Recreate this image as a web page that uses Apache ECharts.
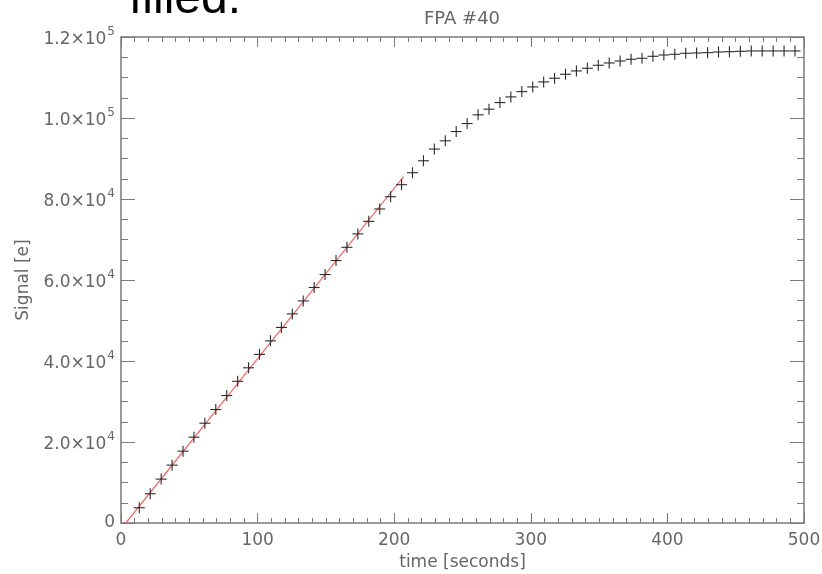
<!DOCTYPE html>
<html>
<head>
<meta charset="utf-8">
<script src="https://cdn.jsdelivr.net/npm/echarts@6/dist/echarts.min.js"></script>
<style>
  html, body { margin: 0; padding: 0; background: #fff; overflow: hidden; }
  #chart { width: 822px; height: 574px; }
</style>
</head>
<body>
<div id="chart"></div>
<script>
// Ramp samples: exposure time (s) and accumulated signal (e)
const timeSec = [
  13.4, 21.4, 29.4, 37.4, 45.4, 53.4, 61.4, 69.4, 77.4, 85.4,
  93.4, 101.4, 109.4, 117.4, 125.4, 133.4, 141.4, 149.4, 157.4, 165.4,
  173.4, 181.4, 189.4, 197.4, 205.4, 213.4, 221.4, 229.4, 237.4, 245.4,
  253.4, 261.4, 269.4, 277.4, 285.4, 293.4, 301.4, 309.4, 317.4, 325.4,
  333.4, 341.4, 349.4, 357.4, 365.4, 373.4, 381.4, 389.4, 397.4, 405.4,
  413.4, 421.4, 429.4, 437.4, 445.4, 453.4, 461.4, 469.4, 477.4, 485.4,
  493.4
];
const signalE = [
  3770, 7220, 10840, 14290, 17740, 21190, 24640, 28020, 31470, 34990,
  38320, 41640, 44970, 48290, 51620, 54830, 58150, 61350, 64800, 68080,
  71380, 74490, 77540, 80570, 83530, 86490, 89440, 92330, 94370, 96660,
  98630, 100780, 102180, 103810, 105210, 106520, 107680, 108910, 109820, 110810,
  111620, 112280, 113020, 113590, 114080, 114500, 114750, 115240, 115560, 115730,
  115980, 116050, 116130, 116300, 116370, 116470, 116550, 116550, 116550, 116550,
  116550
];
// Linear fit over the unsaturated part of the ramp (end points)
const fitTime = [3.5, 207];
const fitSignal = [0, 85600];

// Axis ticks
const xTicks = [0, 100, 200, 300, 400, 500];
const yTickLabels = {
  0: '0',
  20000: '{m|2.0×10}{e|4}',
  40000: '{m|4.0×10}{e|4}',
  60000: '{m|6.0×10}{e|4}',
  80000: '{m|8.0×10}{e|4}',
  100000: '{m|1.0×10}{e|5}',
  120000: '{m|1.2×10}{e|5}'
};

const FONT = '"DejaVu Sans", sans-serif';
const TXT = '#666666';
const AX = '#7a7a7a';

const chart = echarts.init(document.getElementById('chart'), null, { renderer: 'canvas', width: 822, height: 574 });

const baseX = {
  type: 'value', min: xTicks[0], max: xTicks[xTicks.length - 1], interval: 100,
  axisLine: { show: true, onZero: false, lineStyle: { color: AX, width: 1.5 } },
  axisTick: { show: true, inside: true, length: 10, lineStyle: { color: AX, width: 1 } },
  minorTick: { show: true, splitNumber: 10, length: 5, lineStyle: { color: AX, width: 1 } },
  splitLine: { show: false }
};
const baseY = {
  type: 'value', min: 0, max: 120000, interval: 20000,
  axisLine: { show: true, onZero: false, lineStyle: { color: AX, width: 1.5 } },
  axisTick: { show: true, inside: true, length: 14, lineStyle: { color: AX, width: 1 } },
  minorTick: { show: true, splitNumber: 4, length: 7, lineStyle: { color: AX, width: 1 } },
  splitLine: { show: false }
};

const crosses = timeSec.map((t, i) => [t, signalE[i]]);

chart.setOption({
  animation: false,
  backgroundColor: '#ffffff',
  grid: { left: 121, right: 18, top: 37, bottom: 51, containLabel: false, outerBoundsMode: 'none' },
  graphic: [
    {
      type: 'text', left: 129, top: -24,
      style: { text: 'filled.', font: '48px "Liberation Sans", Arial, sans-serif', fill: '#000' }
    },
    {
      type: 'text', x: 462, y: 19,
      style: { text: 'FPA #40', font: '18px ' + FONT, fill: TXT, align: 'center', verticalAlign: 'middle' }
    }
  ],
  xAxis: [
    Object.assign({}, baseX, {
      position: 'bottom',
      name: 'time [seconds]', nameLocation: 'middle', nameGap: 31,
      nameTextStyle: { color: TXT, fontSize: 17, fontFamily: FONT },
      axisLabel: { color: TXT, fontSize: 17, fontFamily: FONT, margin: 9 }
    }),
    Object.assign({}, baseX, { position: 'top', axisLabel: { show: false } })
  ],
  yAxis: [
    Object.assign({}, baseY, {
      position: 'left',
      name: 'Signal [e]', nameLocation: 'middle', nameGap: 86,
      nameTextStyle: { color: TXT, fontSize: 17, fontFamily: FONT },
      axisLabel: {
        margin: 6, color: TXT, fontSize: 17, fontFamily: FONT,
        formatter: v => yTickLabels[v] !== undefined ? yTickLabels[v] : '',
        rich: {
          m: { color: TXT, fontSize: 17, fontFamily: FONT, lineHeight: 22, verticalAlign: 'bottom' },
          e: { color: TXT, fontSize: 12, fontFamily: FONT, verticalAlign: 'top', padding: [0, 0, 10, 1] }
        }
      }
    }),
    Object.assign({}, baseY, { position: 'right', axisLabel: { show: false } })
  ],
  series: [
    {
      name: 'fit', type: 'line', xAxisIndex: 0, yAxisIndex: 0,
      data: fitTime.map((t, i) => [t, fitSignal[i]]),
      showSymbol: false, symbol: 'none',
      lineStyle: { color: '#f26a6a', width: 1.2 },
      z: 2
    },
    {
      name: 'signal', type: 'custom', xAxisIndex: 0, yAxisIndex: 0,
      data: crosses,
      renderItem: function (params, api) {
        const p = api.coord([api.value(0), api.value(1)]);
        const h = 5.5;
        const st = { stroke: '#2b2b2b', lineWidth: 1.1 };
        return {
          type: 'group', children: [
            { type: 'line', shape: { x1: p[0] - h, y1: p[1], x2: p[0] + h, y2: p[1] }, style: st },
            { type: 'line', shape: { x1: p[0], y1: p[1] - h, x2: p[0], y2: p[1] + h }, style: st }
          ]
        };
      },
      z: 3
    }
  ]
});
</script>
</body>
</html>
